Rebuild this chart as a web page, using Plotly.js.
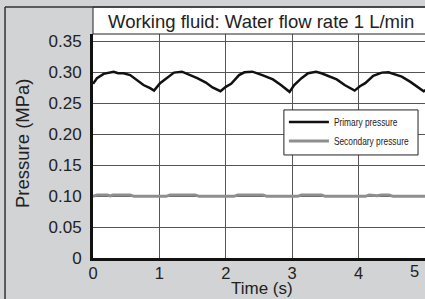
<!DOCTYPE html>
<html>
<head>
<meta charset="utf-8">
<script src="https://cdn.plot.ly/plotly-3.0.1.min.js"></script>
<style>
html,body{margin:0;padding:0;background:#d2d3d5;overflow:hidden;}
#chart{width:425px;height:299px;}
#chart .legendtext{transform-box:fill-box;transform-origin:0 50%;transform:scaleX(0.76);}
</style>
</head>
<body>
<div id="chart"></div>
<script>
var primaryTime = [0, 0.06, 0.16, 0.31, 0.38, 0.46, 0.56, 0.66, 0.76, 0.86, 0.92, 1.01, 1.12, 1.22, 1.34, 1.47, 1.57, 1.70, 1.80, 1.92, 2.0, 2.08, 2.20, 2.28, 2.40, 2.55, 2.71, 2.83, 2.96, 3.03, 3.14, 3.24, 3.36, 3.44, 3.54, 3.67, 3.79, 3.94, 4.02, 4.10, 4.22, 4.35, 4.45, 4.58, 4.65, 4.78, 4.88, 4.98, 5.05];
var primaryPressure = [0.281, 0.290, 0.297, 0.3005, 0.298, 0.298, 0.295, 0.287, 0.279, 0.274, 0.270, 0.282, 0.291, 0.299, 0.3005, 0.295, 0.290, 0.283, 0.275, 0.269, 0.276, 0.281, 0.295, 0.2995, 0.3005, 0.295, 0.288, 0.279, 0.268, 0.279, 0.290, 0.298, 0.3005, 0.298, 0.294, 0.288, 0.279, 0.270, 0.277, 0.282, 0.294, 0.299, 0.2995, 0.295, 0.2925, 0.284, 0.276, 0.269, 0.273];
var secondaryTime = [0, 0.06, 0.22, 0.26, 0.30, 0.56, 0.62, 1.10, 1.16, 1.54, 1.60, 2.12, 2.18, 2.56, 2.62, 3.08, 3.14, 3.44, 3.50, 4.10, 4.16, 4.28, 4.34, 4.46, 4.52, 5.05];
var secondaryPressure = [0.0995, 0.1015, 0.1015, 0.1003, 0.1015, 0.1015, 0.0995, 0.0995, 0.1015, 0.1015, 0.0995, 0.0995, 0.1015, 0.1015, 0.0995, 0.0995, 0.1015, 0.1015, 0.0995, 0.0995, 0.1015, 0.1003, 0.1015, 0.1015, 0.0995, 0.0995];
var xTickVals = [0, 1, 2, 3, 4];
var xTickText = ['0', '1', '2', '3', '4'];
var yTickVals = [0, 0.05, 0.10, 0.15, 0.20, 0.25, 0.30, 0.35];
var yTickText = ['0', '0.05', '0.10', '0.15', '0.20', '0.25', '0.30', '0.35'];

var font = 'Liberation Sans, Arial, sans-serif';

var traces = [
  {x: primaryTime, y: primaryPressure, mode: 'lines', name: 'Primary pressure',
   line: {color: '#111111', width: 2.5}},
  {x: secondaryTime, y: secondaryPressure, mode: 'lines', name: 'Secondary pressure',
   line: {color: '#8e8e8e', width: 3}}
];

var layout = {
  width: 425, height: 299,
  margin: {l: 93, r: 0, t: 34, b: 41, pad: 0, autoexpand: false},
  paper_bgcolor: '#d2d3d5',
  plot_bgcolor: '#ffffff',
  font: {family: font, size: 17, color: '#222222'},
  showlegend: true,
  legend: {x: 0.575, y: 0.672, xanchor: 'left', yanchor: 'top',
           bgcolor: 'rgba(0,0,0,0)', borderwidth: 0,
           font: {family: font, size: 11, color: '#222222'},
           itemwidth: 40, tracegroupgap: 0},
  xaxis: {range: [0, 5], tickvals: xTickVals, ticktext: xTickText,
          showgrid: true, gridcolor: '#555555', gridwidth: 1,
          showline: true, linecolor: '#111111', linewidth: 3,
          ticks: '', zeroline: false, fixedrange: true, ticklabelstandoff: -2,
          tickfont: {family: font, size: 16.5, color: '#222222'}},
  yaxis: {range: [0, 0.3613], tickvals: yTickVals, ticktext: yTickText,
          showgrid: true, gridcolor: '#555555', gridwidth: 1,
          showline: true, linecolor: '#111111', linewidth: 3,
          ticks: '', zeroline: false, fixedrange: true, ticklabelstandoff: 5,
          tickfont: {family: font, size: 17, color: '#222222'}},
  shapes: [
    {type: 'rect', xref: 'paper', yref: 'paper', x0: 0, x1: 1.05, y0: 1, y1: 1.1205,
     fillcolor: '#ffffff', line: {color: '#222222', width: 1}, layer: 'above'},
    {type: 'rect', xref: 'paper', yref: 'paper', x0: 0.575, x1: 0.979, y0: 0.46, y1: 0.661,
     fillcolor: '#ffffff', line: {color: '#222222', width: 1}, layer: 'above'},
    {type: 'line', xref: 'paper', yref: 'paper', x0: -0.265, x1: 1.05, y0: 1.1205, y1: 1.1205,
     line: {color: '#333333', width: 1.5}},
    {type: 'line', xref: 'paper', yref: 'paper', x0: -0.265, x1: -0.265, y0: 1.1205, y1: -0.2,
     line: {color: '#333333', width: 1.5}}
  ],
  annotations: [
    {text: 'Working fluid: Water flow rate 1 L/min', xref: 'paper', yref: 'paper',
     x: 0.506, y: 1.058, xanchor: 'center', yanchor: 'middle', showarrow: false,
     font: {family: font, size: 18.5, color: '#222222'}},
    {text: 'Pressure (MPa)', xref: 'paper', yref: 'paper', x: -0.214, y: 0.513,
     xanchor: 'center', yanchor: 'middle', textangle: -90, showarrow: false,
     font: {family: font, size: 18.5, color: '#222222'}},
    {text: 'Time (s)', xref: 'paper', yref: 'paper', x: 0.509, y: -0.137,
     xanchor: 'center', yanchor: 'middle', showarrow: false, borderpad: 0,
     font: {family: font, size: 17, color: '#222222'}},
    {text: '5', xref: 'paper', yref: 'paper', x: 0.967, y: -0.06,
     xanchor: 'center', yanchor: 'middle', showarrow: false,
     font: {family: font, size: 16.5, color: '#222222'}}
  ]
};

Plotly.newPlot('chart', traces, layout, {displayModeBar: false, staticPlot: true});
</script>
</body>
</html>
